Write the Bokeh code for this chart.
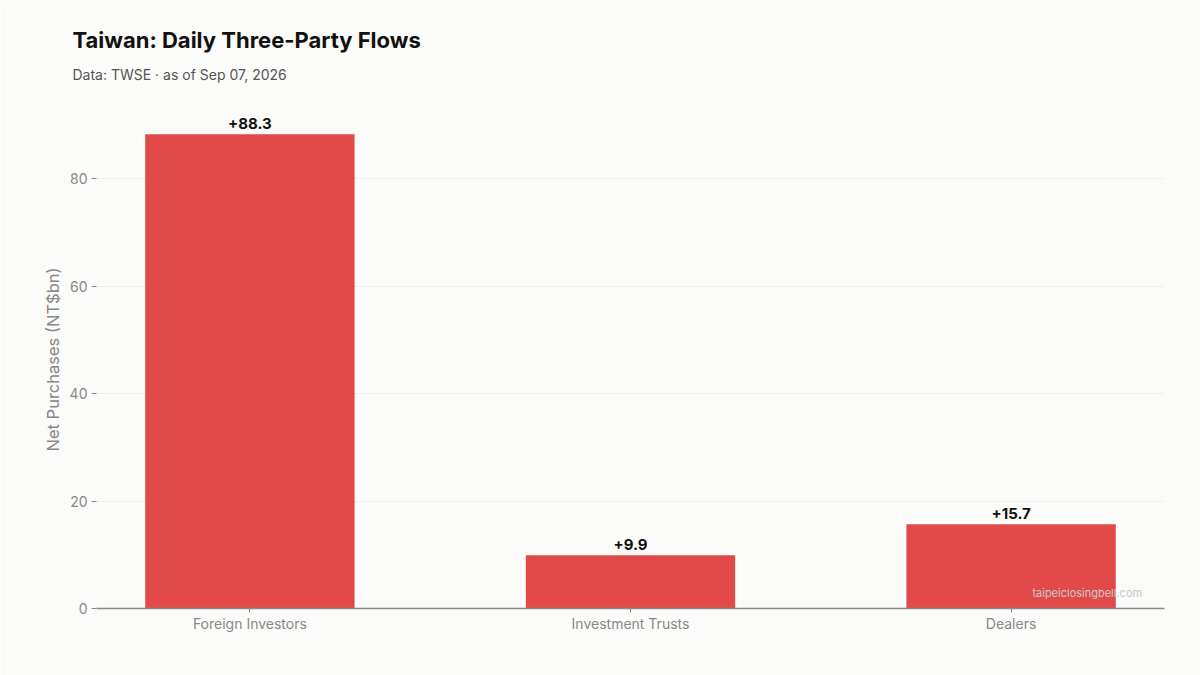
from bokeh.plotting import figure
from bokeh.models import FactorRange, Range1d, Title
from bokeh.embed import file_html
from bokeh.resources import INLINE
from bokeh.core.properties import value

# data
categories = ["Foreign Investors", "Investment Trusts", "Dealers"]
net_buy = [88.3, 9.9, 15.7]
labels = ["+%.1f" % v for v in net_buy]

BG = "#fbfbf9"
BAR = "#e24a4a"
GREY = "#888888"

p = figure(width=1200, height=675, output_backend="svg", toolbar_location=None,
           x_range=FactorRange(*categories, range_padding=-0.097, range_padding_units="absolute"),
           y_range=Range1d(0, 92.7),
           min_border_left=96, min_border_right=36, min_border_top=110, min_border_bottom=67)
p.background_fill_color = BG
p.border_fill_color = BG
p.outline_line_color = None

# header panels stack outward from the frame: spacer, subtitle, title
p.add_layout(Title(text=" ", text_font="Inter", text_font_size="10px", standoff=14), "above")
p.add_layout(Title(text="Data: TWSE · as of Sep 07, 2026", align="left", offset=-24,
                   text_font="Inter", text_font_size="14px", text_font_style="normal",
                   text_color="#555555", standoff=0), "above")
p.add_layout(Title(text="Taiwan: Daily Three-Party Flows", align="left", offset=-24,
                   text_font="Inter", text_font_size="22px", text_font_style="bold",
                   text_color="#111111", standoff=21), "above")

p.vbar(x=categories, top=net_buy, width=0.55, color=BAR, line_color=None)
p.text(x=categories, y=net_buy, text=labels, text_align="center", text_baseline="bottom",
       text_font=value("Inter"), text_font_size="15px", text_font_style="bold",
       text_color="#111111", y_offset=-5)

# watermark
p.text(x=categories[-1:], y=[0], text=["taipeiclosingbell.com"], text_align="right",
       text_baseline="middle", x_offset=131, y_offset=-16,
       text_font=value("Inter"), text_font_size="11px", text_color="#c8c8c8")

p.xgrid.grid_line_color = None
p.ygrid.grid_line_color = "#eeeeee"
p.ygrid.grid_line_alpha = 0.8

p.yaxis.ticker = [0, 20, 40, 60, 80]
p.yaxis.axis_line_color = None
p.yaxis.major_tick_line_color = GREY
p.yaxis.major_tick_in = 0
p.yaxis.major_tick_out = 5
p.yaxis.minor_tick_line_color = None
p.yaxis.major_label_standoff = 4
p.yaxis.axis_label = "Net Purchases (NT$bn)"
p.yaxis.axis_label_text_font = "Inter"
p.yaxis.axis_label_text_font_size = "16.5px"
p.yaxis.axis_label_text_font_style = "normal"
p.yaxis.axis_label_text_color = GREY
p.yaxis.axis_label_standoff = 4

p.xaxis.axis_line_color = GREY
p.xaxis.axis_line_width = 1.5
p.xaxis.major_tick_line_color = GREY
p.xaxis.major_tick_in = 0
p.xaxis.major_tick_out = 4
p.xaxis.minor_tick_line_color = None
p.xaxis.major_label_standoff = 2

for ax in (p.xaxis, p.yaxis):
    ax.major_label_text_font = "Inter"
    ax.major_label_text_font_size = "14px"
    ax.major_label_text_color = GREY

open("out.html", "w").write(file_html(p, INLINE))
